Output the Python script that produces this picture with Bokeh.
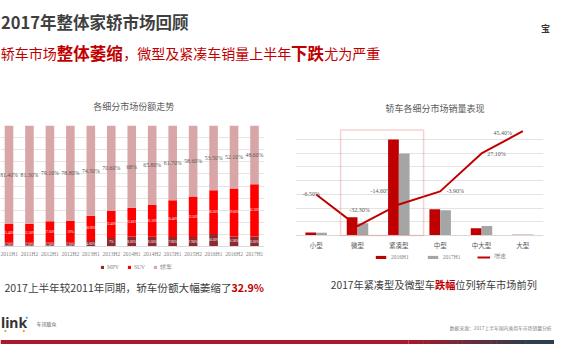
from bokeh.plotting import figure
from bokeh.models import (Range1d, FactorRange, Label, LabelSet, ColumnDataSource,
                          FixedTicker, Legend, LegendItem, BoxAnnotation)
from bokeh.layouts import column, row
from bokeh.transform import dodge
from bokeh.core.properties import value
from bokeh.embed import file_html
from bokeh.resources import INLINE

# ---------------- data ----------------
periods = ["2011H1", "2011H2", "2012H1", "2012H2", "2013H1", "2013H2", "2014H1",
           "2014H2", "2015H1", "2015H2", "2016H1", "2016H2", "2017H1"]
mpv_share = [3.2, 3.2, 3.3, 3.2, 4.6, 7.0, 8.2, 8.1, 7.9, 7.9, 10.3, 8.3, 8.2]
suv_share = [15.4, 15.5, 17.6, 18.0, 20.9, 22.4, 23.8, 26.1, 30.4, 33.5, 36.2, 39.6, 43.2]
sedan_share = [81.4, 81.3, 79.1, 78.8, 74.5, 70.6, 68.0, 65.8, 61.7, 58.6, 53.5, 52.1, 48.6]
share_ticks = [0, 10, 20, 30, 40, 50, 60, 70, 80, 90, 100]

segments = ["小型", "微型", "紧凑型", "中型", "中大型", "大型"]
sales_2016h1 = [10.5, 66.0, 349.0, 95.5, 26.8, 2.4]
sales_2017h1 = [9.8, 44.7, 298.0, 91.8, 34.1, 3.5]
growth = [-6.5, -32.3, -14.6, -3.9, 27.1, 45.4]
sales_ticks = [0, 50, 100, 150, 200, 250, 300, 350, 400]
highlight_segments = ["微型", "紧凑型"]

# ---------------- styles / geometry ----------------
CJK = "Noto Sans CJK SC"
SERIF = "Liberation Serif"
GRAY = "#595959"
DARK = "#404040"
RED = "#C00000"
MPV_C, SUV_C, SED_C = "#8E2A2F", "#FF0000", "#D9A6A8"
GRID_C = "#E4E4E4"

SX = 554 / 570
SY = 344 / 360
HEAD_H = 118          # header band (page px)
FRAME_B = 292         # bottom of both chart frames (page px)
AX_PANEL = 14         # room kept below frames for the axis panel
ROW_B = FRAME_B + AX_PANEL


def fmt(v):
    return f"{v:g}%" if float(v).is_integer() else f"{v:.2f}%"


def blank(w, h, y0):
    f = figure(width=w, height=h, x_range=Range1d(0, w), y_range=Range1d(y0 + h, y0),
               x_axis_location=None, y_axis_location=None, toolbar_location=None,
               output_backend="svg", min_border=0, outline_line_color=None, title=None)
    f.xgrid.visible = False
    f.ygrid.visible = False
    return f


def hlabel(fig, rx, ry, text, size, color, bold=False, align="left", font=CJK):
    fig.add_layout(Label(x=rx * SX, y=ry * SY, text=text, text_font=font,
                         text_font_size=size, text_color=color,
                         text_font_style="bold" if bold else "normal",
                         text_align=align, text_baseline="middle"))


def clabel(fig, x, y, text, size, color, bold=False, align="left", font=CJK):
    fig.add_layout(Label(x=x, y=y, text=text, text_font=font,
                         text_font_size=size, text_color=color,
                         text_font_style="bold" if bold else "normal",
                         text_align=align, text_baseline="middle"))


def style_xaxis(ax, size, font, color):
    ax.fixed_location = 0
    ax.major_label_text_font_size = size
    ax.major_label_text_font = font
    ax.major_label_text_color = color
    ax.major_tick_out = 0
    ax.major_tick_in = 0
    ax.minor_tick_out = 0
    ax.minor_tick_in = 0
    ax.major_label_standoff = 4
    ax.axis_line_color = "#D9D9D9"


# ---------------- header (slide title + chart titles) ----------------
header = blank(554, HEAD_H, 0)
hlabel(header, 0.5, 23, "2017年整体家轿市场回顾", "16.5px", "#3F3F3F", bold=True)
hlabel(header, 57.8, 55, "轿车市场", "14px", RED, align="right")
hlabel(header, 57.8, 55, "整体萎缩", "16.5px", RED, bold=True)
hlabel(header, 126.2, 55, "，微型及紧凑车销量上半年", "14px", RED)
hlabel(header, 299.0, 55, "下跌", "16.5px", RED, bold=True)
hlabel(header, 333.0, 55, "尤为严重", "14px", RED)
hlabel(header, 556, 29, "宝", "9px", "#333333", bold=True)
hlabel(header, 137, 111, "各细分市场份额走势", "9px", GRAY, align="center")
hlabel(header, 447, 113, "轿车各细分市场销量表现", "9px", GRAY, align="center")

# ---------------- left chart ----------------
LFL, LFW, LFR = 0, 264, 18
L_TOP, L_BASE = 121, 242              # page px of 100% line and 0% line
first_c, last_c = 8.5, 254.0          # page px of first / last category centre
lppx = (last_c - first_c) / (len(periods) - 1)
lppy = (L_BASE - L_TOP) / 100.0
XL0 = -first_c / lppx
XL1 = XL0 + LFW / lppx
YL0 = -(FRAME_B - L_BASE) / lppy


def lx(rx):
    return XL0 + (rx * SX - LFL) / lppx


def ly(ry):
    return (L_BASE - ry * SY) / lppy


left = figure(frame_width=LFW, frame_height=FRAME_B - L_TOP, x_range=Range1d(XL0, XL1),
              y_range=Range1d(YL0, 100), y_axis_location=None, toolbar_location=None,
              output_backend="svg", title=None,
              min_border_left=LFL, min_border_right=LFR,
              min_border_top=L_TOP - HEAD_H, min_border_bottom=AX_PANEL,
              outline_line_color=None)

idx = list(range(len(periods)))
lsrc = ColumnDataSource(dict(
    x=idx, mpv=mpv_share, suv=suv_share, sedan=sedan_share,
    mpv_mid=[m / 2 for m in mpv_share],
    suv_mid=[m + s / 2 for m, s in zip(mpv_share, suv_share)],
    sed_mid=[m + s + d / 2 for m, s, d in zip(mpv_share, suv_share, sedan_share)],
    mpv_lbl=[fmt(v) for v in mpv_share],
    suv_lbl=[fmt(v) for v in suv_share],
    sed_lbl=[fmt(v) for v in sedan_share],
))
stack = left.vbar_stack(["mpv", "suv", "sedan"], x="x", width=0.42, source=lsrc,
                        fill_color=[MPV_C, SUV_C, SED_C], line_color=None)
left.text(x="x", y="sed_mid", text="sed_lbl", source=lsrc, text_align="center",
          text_baseline="middle", text_font=value(SERIF), text_font_size=value("5.8px"),
          text_color=GRAY)
left.text(x="x", y="suv_mid", text="suv_lbl", source=lsrc, text_align="center",
          text_baseline="middle", text_font=value(SERIF), text_font_size=value("3.5px"),
          text_color="white")
left.text(x="x", y="mpv_mid", text="mpv_lbl", source=lsrc, text_align="center",
          text_baseline="middle", text_font=value(SERIF), text_font_size=value("3.5px"),
          text_color="white")

left.xgrid.visible = False
left.ygrid.ticker = FixedTicker(ticks=share_ticks)
left.ygrid.grid_line_color = GRID_C
left.xaxis.ticker = FixedTicker(ticks=idx)
left.xaxis.major_label_overrides = {i: p for i, p in enumerate(periods)}
style_xaxis(left.xaxis, "5.5px", SERIF, "#7F7F7F")

lleg = Legend(items=[LegendItem(label="MPV", renderers=[stack[0]]),
                     LegendItem(label="SUV", renderers=[stack[1]]),
                     LegendItem(label="轿车", renderers=[stack[2]])],
              orientation="horizontal",
              location=(100, FRAME_B - 276 * SY - 3),
              label_text_font_size="5.5px", label_text_color="#7F7F7F",
              label_text_font=SERIF, glyph_width=4, glyph_height=4,
              label_height=6, label_width=5, label_standoff=3, spacing=8,
              padding=0, margin=0, border_line_alpha=0, background_fill_alpha=0)
left.add_layout(lleg)

clabel(left, lx(237.7), ly(296), "2017上半年较2011年同期，轿车份额大幅萎缩了", "10.6px", DARK,
       align="right")
clabel(left, lx(237.7), ly(296), "32.9%", "10.6px", RED, bold=True)

# ---------------- right chart ----------------
RFIG_X = 282
RFL, RFW, RFR = 13, 248, 11
R_TOP, R_BASE = 125, 235
rppx = RFW / len(segments)
rppy = (R_BASE - R_TOP) / 400.0
YR0 = -(FRAME_B - R_BASE) / rppy
G_LO, G_HI = -40, 50
gppy = (R_BASE - R_TOP) / (G_HI - G_LO)
G0 = G_LO - (FRAME_B - R_BASE) / gppy


def rx_(rx):
    return (rx * SX - (RFIG_X + RFL)) / rppx


def ry_(ry):
    return (R_BASE - ry * SY) / rppy


right = figure(frame_width=RFW, frame_height=FRAME_B - R_TOP, x_range=FactorRange(*segments),
               y_range=Range1d(YR0, 400), y_axis_location=None, toolbar_location=None,
               output_backend="svg", title=None,
               min_border_left=RFL, min_border_right=RFR,
               min_border_top=R_TOP - HEAD_H, min_border_bottom=AX_PANEL,
               outline_line_color=None)
right.extra_y_ranges = {"growth": Range1d(G0, G_HI)}

growth_label_offsets = [(-5, 1), (2, 16), (-18, 13), (15, 0), (15, -1), (-20, -2)]
rsrc = ColumnDataSource(dict(
    seg=segments, s16=sales_2016h1, s17=sales_2017h1, g=growth,
    glbl=[fmt(v) for v in growth],
    gx=[o[0] for o in growth_label_offsets],
    gy=[o[1] for o in growth_label_offsets],
))
b16 = right.vbar(x=dodge("seg", -0.13, range=right.x_range), top="s16", width=0.26,
                 source=rsrc, fill_color=RED, line_color=None)
b17 = right.vbar(x=dodge("seg", 0.13, range=right.x_range), top="s17", width=0.26,
                 source=rsrc, fill_color="#A5A5A5", line_color=None)
gl = right.line(x="seg", y="g", source=rsrc, y_range_name="growth",
                line_color=RED, line_width=2)
right.add_layout(LabelSet(x="seg", y="g", text="glbl", source=rsrc, y_range_name="growth",
                          x_offset="gx", y_offset="gy", text_align="center",
                          text_baseline="middle", text_font=value(SERIF),
                          text_font_size=value("6px"), text_color=GRAY))

hi0 = segments.index(highlight_segments[0])
hi1 = segments.index(highlight_segments[-1]) + 1
right.add_layout(BoxAnnotation(left=hi0 + 0.09, right=hi1 + 0.1, bottom=0, top=384,
                               fill_alpha=0, line_color="#E26D6D", line_width=1.5))

right.xgrid.visible = False
right.ygrid.ticker = FixedTicker(ticks=sales_ticks)
right.ygrid.grid_line_color = GRID_C
style_xaxis(right.xaxis, "6.5px", CJK, GRAY)

rleg = Legend(items=[LegendItem(label="2016H1", renderers=[b16]),
                     LegendItem(label="2017H1", renderers=[b17]),
                     LegendItem(label="增速", renderers=[gl])],
              orientation="horizontal",
              location=(79, FRAME_B - 269 * SY - 3),
              label_text_font_size="5.5px", label_text_color="#7F7F7F",
              label_text_font=SERIF, glyph_width=13, glyph_height=4,
              label_height=6, label_width=5, label_standoff=4, spacing=17,
              padding=0, margin=0, border_line_alpha=0, background_fill_alpha=0)
right.add_layout(rleg)

clabel(right, rx_(447), ry_(297.7), "2017年紧凑型及微型车", "10.2px", DARK, align="right")
clabel(right, rx_(447), ry_(297.7), "跌幅", "10.2px", RED, bold=True)
clabel(right, rx_(468), ry_(297.7), "位列轿车市场前列", "10.2px", DARK)

# ---------------- footer (logo, source, band) ----------------
footer = blank(554, 344 - ROW_B, ROW_B)

bar_top, bar_bot = 355.3 * SY, 360 * SY
c0 = (0xA9, 0x19, 0x2B)
c1 = (0x2F, 0x3E, 0x4C)
g_start, g_end, nstep = 420 * SX, 540 * SX, 24
footer.quad(left=[0], right=[g_start], top=[bar_top], bottom=[bar_bot],
            fill_color="#A9192B", line_color=None)
lefts, rights, cols = [], [], []
for i in range(nstep):
    t = (i + 0.5) / nstep
    lefts.append(g_start + (g_end - g_start) * i / nstep)
    rights.append(g_start + (g_end - g_start) * (i + 1) / nstep + 0.5)
    cols.append("#%02x%02x%02x" % tuple(int(a + (b - a) * t) for a, b in zip(c0, c1)))
footer.quad(left=lefts, right=rights, top=bar_top, bottom=bar_bot, fill_color=cols,
            line_color=None)
footer.quad(left=[g_end], right=[554], top=[bar_top], bottom=[bar_bot],
            fill_color="#2F3E4C", line_color=None)

hlabel(footer, 0.5, 337, "link", "14px", "#333333", bold=True, font="Noto Sans")
hlabel(footer, 37, 337.5, "车讯联众", "5px", "#555555")
footer.scatter(x=[27 * SX, 24 * SX, 5 * SX], y=[332 * SY, 346 * SY, 346 * SY], size=2.2,
               fill_color=["#29ABE2", "#F7931E", "#8CC63F"], line_color=None)
hlabel(footer, 567, 342, "数据来源：2017上半年国内乘用车市场销量分析", "4.8px", "#7F7F7F",
       align="right")

layout = column(header, row(left, right), footer)
open("out.html", "w").write(file_html(layout, INLINE))
